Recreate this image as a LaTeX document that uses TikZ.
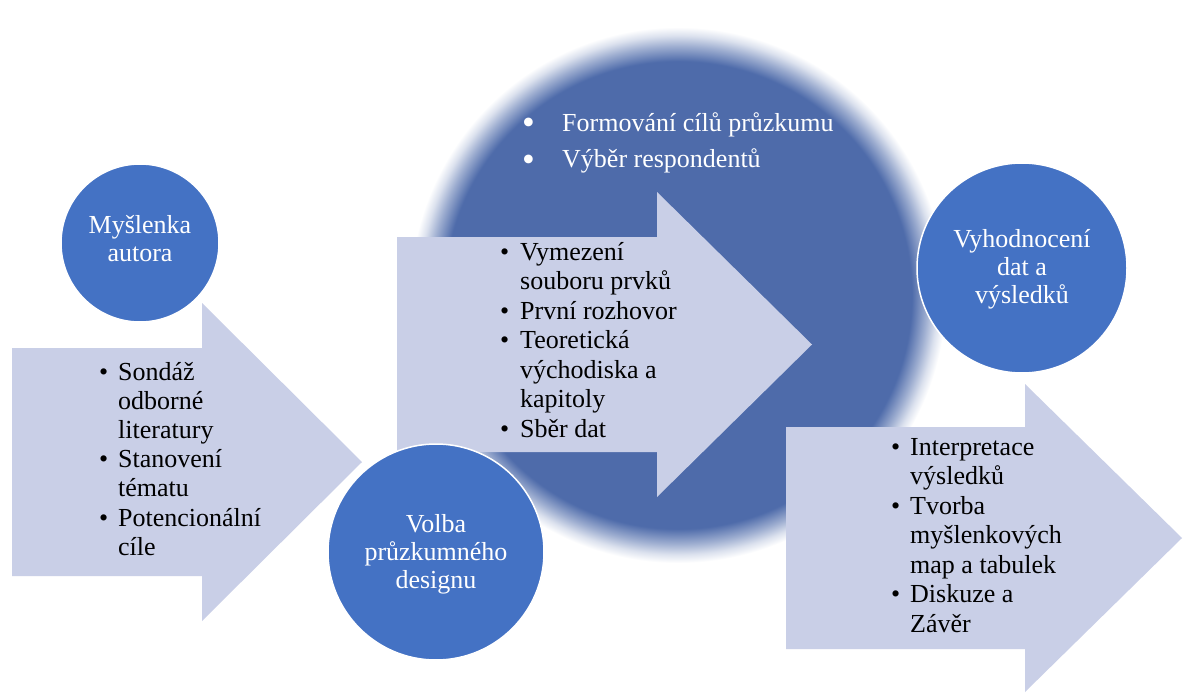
\documentclass[tikz,border=0pt]{standalone}
\usepackage{fontspec}
\setmainfont{Liberation Serif}
\definecolor{arrowfill}{HTML}{C9CFE7}
\definecolor{circblue}{HTML}{4472C4}
\definecolor{bigblue}{HTML}{4E6BAA}
\colorlet{bigmid}{bigblue!55!white}
\colorlet{bigpale}{bigblue!20!white}
\pgfdeclareradialshading{bigfade}{\pgfpoint{0bp}{0bp}}{color(0bp)=(bigblue); color(21.8bp)=(bigblue); color(23.2bp)=(bigmid); color(24.2bp)=(bigpale); color(25bp)=(white); color(50bp)=(white)}
\newcommand\itm[2]{\hbox{\hbox to #1{\textbullet\hfil}#2}}
\newcommand\bigitm[2]{\hbox{\hbox to #1{\raisebox{-4pt}{\scalebox{1.4}{\textbullet}}\hfil}#2}}
\newcommand\cnt[2]{\hbox{\hbox to #1{\hfil}#2}}
\newcommand\blist[2]{\vtop{\fontsize{26}{#1}\selectfont #2}}
\newcommand\ctext[1]{\vtop{\fontsize{26}{28}\selectfont\halign{\hfil##\hfil\cr#1\crcr}}}
\tikzset{
  smallcirc/.style={circle, fill=circblue, draw=white, line width=1.5pt, minimum size=#1, inner sep=0pt},
  arrowshape/.style={fill=arrowfill},
  ctxt/.style={anchor=base, inner sep=0pt, text=white},
  ltxt/.style={anchor=base west, inner sep=0pt, text=black},
}
\begin{document}
\begin{tikzpicture}[x=1pt,y=-1pt]
\useasboundingbox (0,0) rectangle (1184,693);
\fill[white] (0,0) rectangle (1184,693);
% big soft circle
\shade[shading=bigfade] (678,295) circle (268);
% middle arrow
\path[arrowshape] (397,237) -- (657,237) -- (657,192) -- (812,344.5) -- (657,497) -- (657,452) -- (397,452) -- cycle;
% right arrow
\path[arrowshape] (786,427) -- (1025,427) -- (1025,384) -- (1182,538) -- (1025,692) -- (1025,649) -- (786,649) -- cycle;
% left arrow
\path[arrowshape] (12,348) -- (202,348) -- (202,303) -- (362,462) -- (202,621) -- (202,576) -- (12,576) -- cycle;
% circles
\node[smallcirc=158pt] (c1) at (140,243) {};
\node[smallcirc=216pt] (c2) at (436,552) {};
\node[smallcirc=210pt] (c3) at (1022,268) {};
% circle texts
\node[ctxt] (t1) at (140,233) {\ctext{Myšlenka\cr autora}};
\node[ctxt] (t2) at (436,532) {\ctext{Volba\cr průzkumného\cr designu}};
\node[ctxt] (t3) at (1022,247) {\ctext{Vyhodnocení\cr dat a\cr výsledků}};
% lists
\node[ltxt, text=white] (l0) at (522,131) {\blist{36}{\bigitm{40pt}{Formování cílů průzkumu}\bigitm{40pt}{Výběr respondentů}}};
\node[ltxt] (l1) at (99,380) {\blist{29.2}{\itm{19pt}{Sondáž}\cnt{19pt}{odborné}\cnt{19pt}{literatury}\itm{19pt}{Stanovení}\cnt{19pt}{tématu}\itm{19pt}{Potencionální}\cnt{19pt}{cíle}}};
\node[ltxt] (l2) at (500,260) {\blist{29.5}{\itm{20pt}{Vymezení}\cnt{20pt}{souboru prvků}\itm{20pt}{První rozhovor}\itm{20pt}{Teoretická}\cnt{20pt}{východiska a}\cnt{20pt}{kapitoly}\itm{20pt}{Sběr dat}}};
\node[ltxt] (l3) at (891,455) {\blist{29.5}{\itm{19pt}{Interpretace}\cnt{19pt}{výsledků}\itm{19pt}{Tvorba}\cnt{19pt}{myšlenkových}\cnt{19pt}{map a tabulek}\itm{19pt}{Diskuze a}\cnt{19pt}{Závěr}}};
\end{tikzpicture}
\end{document}
